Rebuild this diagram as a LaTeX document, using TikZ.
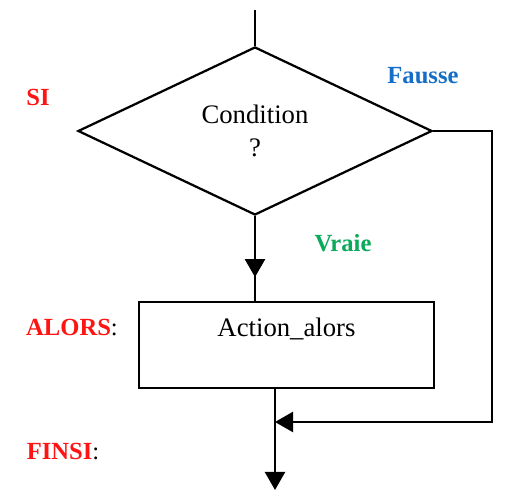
\documentclass[tikz,border=0pt]{standalone}
\usepackage{fontspec}
\setmainfont{Liberation Serif}
\usetikzlibrary{shapes.geometric,arrows.meta,decorations.markings}
\definecolor{sired}{RGB}{255,20,20}
\definecolor{fblue}{RGB}{20,110,200}
\definecolor{vgreen}{RGB}{10,170,90}
\begin{document}
\begin{tikzpicture}[x=0.025cm, y=-0.025cm, line width=1.6pt,
    txt/.style={font=\fontsize{19}{23}\selectfont},
    kw/.style={font=\fontsize{17.5}{21}\selectfont\bfseries},
    tip/.style={-{Triangle[length=0.45cm,width=0.5cm]}},
    midtip/.style={postaction={decorate}, decoration={markings,
        mark=at position #1 with {\arrow{Triangle[length=0.45cm,width=0.5cm]}}}}]
        \useasboundingbox[fill=white] (0,0) rectangle (508,490);

        \node[draw, diamond, txt, align=center, inner sep=0pt, minimum width=8.85cm, minimum height=4.2cm] (cond) at (255,131) {Condition\\?};
        \node[draw, rectangle, txt, inner sep=0pt, minimum width=7.375cm, text height=0.875cm, text depth=1.275cm] (act) at (286.5,345) {Action\_alors};

        \coordinate (in) at (255,10);
        \coordinate (out) at (275,490);
        \coordinate (join) at (275,422);
        \coordinate (loop) at (492,422);

        \draw (in) -- (cond.north);
        \draw[midtip=0.72] (cond.south) -- (cond.south |- act.north);
        \draw[tip] (act.south -| out) -- (out);
        \draw[tip] (cond.east) -| (loop) -- (join);

        \node[kw, text=sired] (si) at (38,97) {SI};
        \node[kw, text=fblue] (faux) at (423,76) {Fausse};
        \node[kw, text=vgreen] (vrai) at (343,243) {Vraie};
        \node[kw] (alors) at (72,328) {\textcolor{sired}{ALORS}\mdseries:};
        \node[kw] (finsi) at (63,452) {\textcolor{sired}{FINSI}\mdseries:};
      \end{tikzpicture}
\end{document}
